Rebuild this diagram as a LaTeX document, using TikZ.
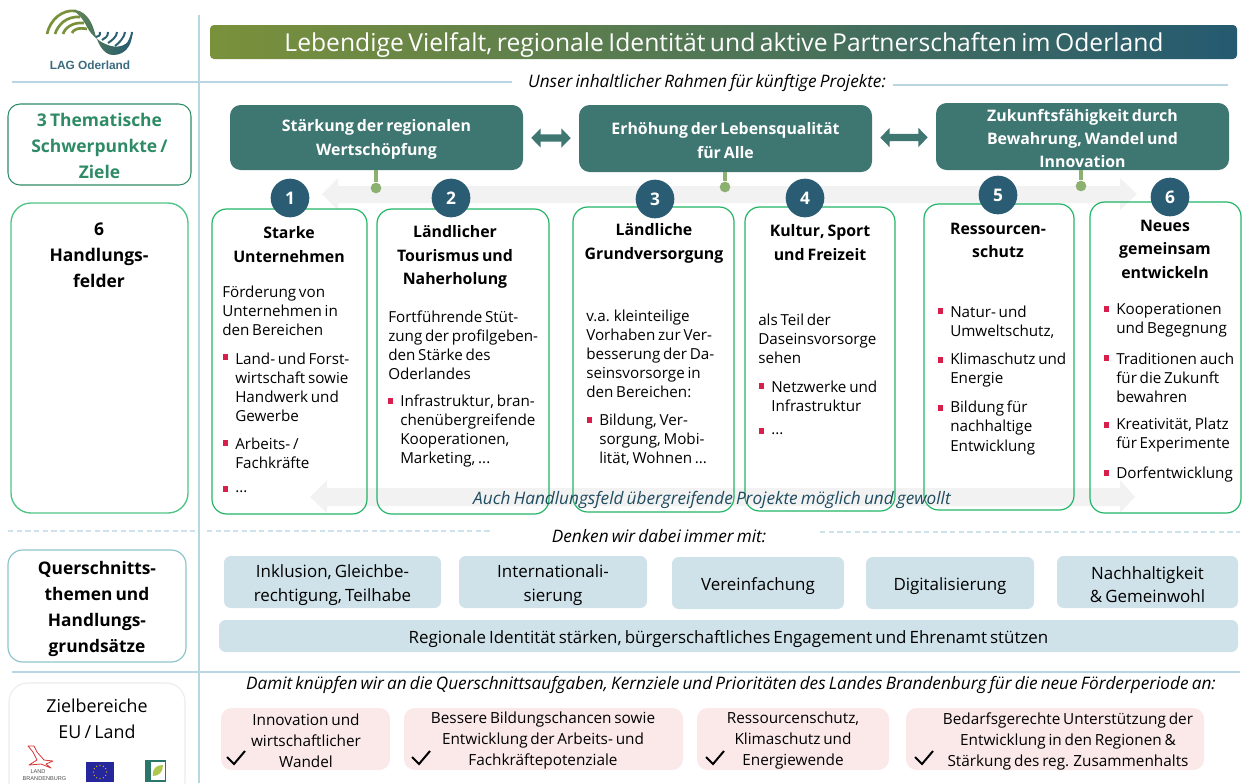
\documentclass[tikz,border=0pt]{standalone}
\usepackage{fontspec}
\setmainfont[WordSpace=0.7]{Open Sans}
\newfontfamily\labelfont{Liberation Sans}
\usetikzlibrary{positioning, arrows.meta, calc, fit}

\definecolor{rahmenblau}{HTML}{B9D6E3}
\definecolor{titelgruen}{HTML}{7A913B}
\definecolor{titelblau}{HTML}{255A70}
\definecolor{zielgruen}{HTML}{3E7672}
\definecolor{stiel}{HTML}{8CB06F}
\definecolor{feldgruen}{HTML}{22B565}
\definecolor{nummer}{HTML}{2A5D73}
\definecolor{pfeilgrau}{HTML}{F2F2F2}
\definecolor{querblau}{HTML}{CFE2E9}
\definecolor{zartrot}{HTML}{FBE9EA}
\definecolor{punkt}{HTML}{D81E4A}
\definecolor{kastengruen}{HTML}{2E8B65}

\def\raster{0.75pt}

\tikzset{
    sizeS/.style={font=\fontsize{11.4}{14.3}\selectfont},
    head/.style={font=\fontsize{11.9}{17.6}\selectfont\bfseries, align=center, inner sep=0pt, yshift=-1pt},
    linkshead/.style={font=\fontsize{13.1}{19.5}\selectfont\bfseries, align=center, inner sep=0pt},
    bodytext/.style={sizeS, align=left, anchor=west, inner sep=0pt, yshift=-0.75pt},
    feldbox/.style={draw=feldgruen, line width=0.9pt, rounded corners=11pt, inner sep=0pt},
    zielbox/.style={fill=zielgruen, rounded corners=8pt, inner sep=0pt},
    zieltext/.style={font=\fontsize{11.9}{17.6}\selectfont\bfseries, text=white, align=center, inner sep=0pt, yshift=-1.5pt},
    querbox/.style={fill=querblau, rounded corners=5pt, inner sep=0pt},
    pinkbox/.style={fill=zartrot, rounded corners=8pt, inner sep=0pt},
    querlabel/.style={font=\fontsize{12.7}{17.4}\selectfont, align=center, inner sep=0pt, yshift=-2.25pt},
    pinklabel/.style={font=\fontsize{11.5}{15.75}\selectfont, align=center, inner sep=0pt, yshift=-1.5pt},
    nummernode/.style={circle, fill=nummer, text=white, minimum size=29pt, inner sep=0pt, font=\fontsize{13}{13}\selectfont\bfseries},
    knopf/.style={circle, fill=stiel, minimum size=8pt, inner sep=0pt},
    stem/.style={stiel, line width=2.6pt},
    zielpfeil/.style={zielgruen, line width=5.5pt, {Triangle[length=7pt,width=14pt]}-{Triangle[length=7pt,width=14pt]}, shorten <=6pt, shorten >=6pt},
    linie/.style={rahmenblau, line width=1.1pt},
    strich/.style={rahmenblau!70, line width=1.1pt, dash pattern=on 4pt off 2.5pt},
    haken/.style={black, line width=1.5pt},
    kursiv/.style={font=\fontsize{12.9}{14}\selectfont\itshape, inner sep=0pt, yshift=-1.5pt}
}

\begin{document}
\begin{tikzpicture}[x=\raster, y=-\raster]
    \clip (0,0) rectangle (1245,783);
    \useasboundingbox (0,0) rectangle (1245,783);

    % raster lines
    \draw[linie] (199,15) -- (199,783);
    \draw[linie] (12,82) -- (512,82);
    \draw[linie] (893,85) -- (1228,85);
    \draw[linie] (12,672) -- (1240,672);
    \draw[strich] (8,531) -- (195,531);
    \draw[strich] (207,531) -- (493,531);
    \draw[strich] (820,532) -- (1240,532);

    % title
    \shade[left color=titelgruen, right color=titelblau, rounded corners=3pt]
        (210,59) -- (210,25) -- (1237,25) -- (1237,59) -- cycle;
    \node[text=white, inner sep=0pt, yshift=-2pt, font=\fontsize{18.5}{20}\selectfont] (titel) at (724,42)
        {Lebendige Vielfalt, regionale Identität und aktive Partnerschaften im Oderland};

    % logo
    \draw[titelgruen, line width=2pt] (47,34) .. controls (50,20) and (62,9) .. (76,11);
    \draw[titelgruen, line width=2pt] (55,34) .. controls (58,25) and (66,16) .. (80,17);
    \draw[titelgruen, line width=2pt] (63,34) .. controls (65,28) and (72,22) .. (84,23);
    \draw[titelgruen, line width=2pt] (72,33) .. controls (73,30) and (78,27) .. (87,29);
    \foreach \xa/\xb/\yb in {100/96/37, 108/102/40, 117/108/43, 125/115/46, 132/123/50}
    {
        \draw[titelblau!75!zielgruen, line width=1.5pt] (\xa,32) .. controls (\xa,37) and (\xb+3,\yb-2) .. (\xb,\yb);
    }
    \shade[left color=titelgruen!60!zielgruen, right color=titelblau]
        (72,10) .. controls (84,9) and (91,20) .. (94,30) .. controls (97,42) and (103,55) .. (113,55)
        .. controls (125,55) and (131,46) .. (132,36) .. controls (128,45) and (120,48) .. (111,46)
        .. controls (100,43) and (92,36) .. (87,27) .. controls (83,19) and (78,13) .. (72,10) -- cycle;
    \node[font=\labelfont\bfseries\fontsize{8.9}{10}\selectfont, text=titelblau!90, inner sep=0pt] (logotext) at (90,65) {LAG Oderland};

    % left column
    \node[draw=kastengruen, line width=0.8pt, rounded corners=9pt, inner sep=0pt, fit={(8,104) (191,185)}] (kasten1) {};
    \node[linkshead, text=kastengruen, yshift=-1pt] (kasten1text) at (kasten1) {3 Thematische\\Schwerpunkte /\\Ziele};
    \node[draw=feldgruen!80, line width=1pt, rounded corners=15pt, inner sep=0pt, fit={(11,203) (188,513)}] (kasten2) {};
    \node[linkshead, anchor=north, yshift=-3pt] (kasten2text) at (99,219) {6\\Handlungs-\\felder};
    \node[draw=rahmenblau!50!teal!70, line width=0.9pt, rounded corners=11pt, inner sep=0pt, fit={(8,550) (186,662)}] (kasten3) {};
    \node[linkshead, yshift=-2.25pt, font=\fontsize{13}{19.3}\selectfont\bfseries] (kasten3text) at (kasten3) {Querschnitts-\\themen und\\Handlungs-\\grundsätze};
    \node[draw=black!8, line width=0.8pt, rounded corners=14pt, inner sep=0pt, fit={(9,683) (185,800)}] (kasten4) {};
    \node[inner sep=0pt, align=center, yshift=-3pt, font=\fontsize{13.4}{19.5}\selectfont, anchor=north] (kasten4text) at (97,695) {Zielbereiche\\EU / Land};

    % small logos
    \draw[red!80!black!80, line width=0.6pt, line join=round]
        (28,746) -- (34,746) -- (37,752) -- (44,760) -- (53,761) -- (46,764) -- (51,768) -- (41,764) -- (29,765)
        -- (37,760) -- (33,752) -- cycle;
    \node[inner sep=0pt, text=black!70, font=\labelfont\fontsize{4.2}{4.6}\selectfont] (land) at (38,772) {LAND};
    \node[inner sep=0pt, text=black!70, font=\labelfont\fontsize{4.2}{4.6}\selectfont] (brandenburg) at (44.5,779) {BRANDENBURG};
    \node[fill=blue!55!black!85, inner sep=0pt, fit={(86,762) (114,782)}] (euflagge) {};
    \foreach \w in {0,30,...,330}
    {
        \fill[yellow!85!orange] ($(euflagge)+(\w:5pt)$) circle (0.45pt);
    }
    \node[fill=titelblau!40!kastengruen, inner sep=0pt, fit={(145,760) (166,782)}] (leader) {};
    \fill[white] (151,762) rectangle (165,780);
    \fill[stiel!70!yellow] (153,776) .. controls (152,768) and (157,765) .. (163,765) .. controls (163,772) and (159,776) .. (153,776) -- cycle;

    % grey arrows behind the fields
    \fill[pfeilgrau] (322,194) -- (338,178) -- (338,186) -- (1120,186) -- (1120,178) -- (1137,194)
        -- (1120,210) -- (1120,203) -- (338,203) -- (338,210) -- cycle;
    \fill[pfeilgrau] (310,497) -- (327,480) -- (327,488) -- (1120,488) -- (1120,480) -- (1135,497)
        -- (1120,513) -- (1120,506) -- (327,506) -- (327,513) -- cycle;

    % goals
    \foreach \name/\xa/\ya/\xb/\yb/\txt in {
        ziel1/230/105/523/170/{Stärkung der regionalen\\Wertschöpfung},
        ziel2/579/105/872/172/{Erhöhung der Lebensqualität\\für Alle},
        ziel3/936/103/1229/170/{Zukunftsfähigkeit durch\\Bewahrung, Wandel und\\Innovation}}{

        \node[zielbox, fit={(\xa,\ya) (\xb,\yb)}] (\name) {};
        \node[zieltext] (\name text) at (\name) {\txt};
    }
    \draw[zielpfeil] (ziel1) -- (ziel2);
    \draw[zielpfeil] (ziel2) -- (ziel3);

    \foreach \name/\x/\y in {ziel1/376/188, ziel2/725/187, ziel3/1081/186}{
        \node[knopf] (\name dot) at (\x,\y) {};
        \draw[stem] (\name.south -| \name dot) -- (\name dot);
    }

    % fields
    \foreach \i/\xa/\ya/\xb/\yb in {
        1/212/209/367/514,
        2/377/209/549/514,
        3/573/207/734/512,
        4/745/207/895/511,
        5/924/204/1074/510,
        6/1090/202/1241/513}{

        \node[feldbox, fit={(\xa,\ya) (\xb,\yb)}] (feld\i) {};
    }
    \foreach \i/\x/\y in {1/290/198, 2/451/198, 3/655/199, 4/805/198, 5/998/195, 6/1170/197}{
        \node[nummernode] (nr\i) at (\x,\y) {\i};
    }

    % field headings
    \foreach \i/\x/\y/\txt in {
        1/289/243/{Starke\\Unternehmen},
        2/455/256/{Ländlicher\\Tourismus und\\Naherholung},
        3/654/242/{Ländliche\\Grundversorgung},
        4/820/241/{Kultur, Sport\\und Freizeit},
        5/998/239/{Ressourcen-\\schutz},
        6/1165/248/{Neues\\gemeinsam\\entwickeln}}{

        \node[head] (kopf\i) at (\x,\y) {\txt};
    }

    % body text without a bullet
    \foreach \i/\x/\y/\txt in {
        1/222/310/{Förderung von\\Unternehmen in\\den Bereichen},
        2/388/344.5/{Fortführende Stüt-\\zung der profilgeben-\\den Stärke des\\Oderlandes},
        3/586/353/{v.a. kleinteilige\\Vorhaben zur Ver-\\besserung der Da-\\seinsvorsorge in\\den Bereichen:},
        4/758/338/{als Teil der\\Daseinsvorsorge\\sehen}}{

        \node[bodytext] (intro\i) at (\x,\y) {\txt};
    }

    % bullets
    \foreach \x/\yb/\y/\txt [count=\n] in {
        235/357/386/{Land- und Forst-\\wirtschaft sowie\\Handwerk und\\Gewerbe},
        235/443/452.5/{Arbeits- /\\Fachkräfte},
        235/489/491/{...},
        400/401/430/{Infrastruktur, bran-\\chenübergreifende\\Kooperationen,\\Marketing, ...},
        599/420/439/{Bildung, Ver-\\sorgung, Mobi-\\lität, Wohnen ...},
        771/386/395.5/{Netzwerke und\\Infrastruktur},
        771/431/433/{...},
        950/311/321/{Natur- und\\Umweltschutz,},
        950/360/369.5/{Klimaschutz und\\Energie},
        950/408/427/{Bildung für\\nachhaltige\\Entwicklung},
        1116/309/319/{Kooperationen\\und Begegnung},
        1116/358/377/{Traditionen auch\\für die Zukunft\\bewahren},
        1116/425/434.5/{Kreativität, Platz\\für Experimente},
        1116/473/473/{Dorfentwicklung}}{

        \fill[punkt] (\x-12,\yb-3) rectangle (\x-7,\yb+3);
        \node[bodytext] (punkt\n) at (\x,\y) {\txt};
    }

    % captions
    \node[kursiv] (rahmentext) at (707,81) {Unser inhaltlicher Rahmen für künftige Projekte:};
    \node[kursiv, text=titelblau!85!black] (uebergreifend) at (712,498) {Auch Handlungsfeld übergreifende Projekte möglich und gewollt};
    \node[kursiv] (denken) at (659,534) {Denken wir dabei immer mit:};
    \node[kursiv] (damit) at (731,683) {Damit knüpfen wir an die Querschnittsaufgaben, Kernziele und Prioritäten des Landes Brandenburg für die neue Förderperiode an:};

    % cross topics
    \foreach \name/\xa/\ya/\xb/\yb/\txt in {
        quer1/224/556/441/608/{Inklusion, Gleichbe-\\rechtigung, Teilhabe},
        quer2/459/556/647/608/{Internationali-\\sierung},
        quer3/672/557/844/609/{Vereinfachung},
        quer4/866/557/1034/609/{Digitalisierung},
        quer5/1057/556/1238/608/{Nachhaltigkeit\\\& Gemeinwohl},
        quer6/219/620/1238/652/{Regionale Identität stärken, bürgerschaftliches Engagement und Ehrenamt stützen}}{

        \node[querbox, fit={(\xa,\ya) (\xb,\yb)}] (\name) {};
        \node[querlabel] (\name text) at (\name) {\txt};
    }

    % target areas
    \foreach \name/\xa/\xb/\xt/\xh/\txt in {
        bereich1/221/390/306/227/{Innovation und\\wirtschaftlicher\\Wandel},
        bereich2/404/683/543/412/{Bessere Bildungschancen sowie\\Entwicklung der Arbeits- und\\Fachkräftepotenziale},
        bereich3/697/889/793/706/{Ressourcenschutz,\\Klimaschutz und\\Energiewende},
        bereich4/906/1204/1068/915/{Bedarfsgerechte Unterstützung der\\Entwicklung in den Regionen \&\\Stärkung des reg. Zusammenhalts}}{

        \node[pinkbox, fit={(\xa,708) (\xb,770)}] (\name) {};
        \node[pinklabel] (\name label) at (\xt,739) {\txt};
        \draw[haken] (\xh,757) -- (\xh+7,764) -- (\xh+18,751);
    }
\end{tikzpicture}
\end{document}
